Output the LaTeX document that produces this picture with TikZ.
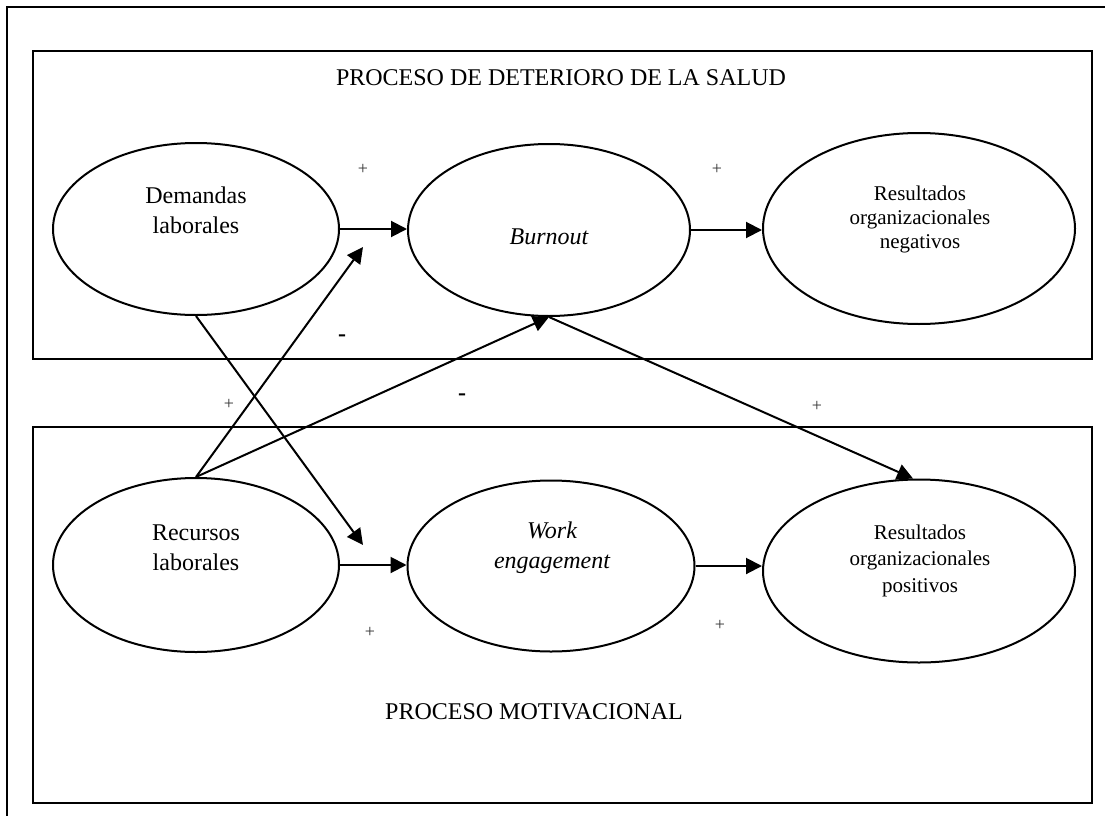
\documentclass[tikz,border=0pt]{standalone}
\usepackage{fontspec}
\setmainfont{Liberation Serif}
\usetikzlibrary{shapes.geometric,arrows.meta}
\begin{document}
\begin{tikzpicture}[x=1pt,y=-1pt,
  frame/.style={draw=black,line width=2.2pt},
  blob/.style={draw=black,ellipse,line width=2pt,inner sep=0pt},
  body/.style={anchor=base,align=center,inner sep=0pt,font=\fontsize{24}{30}\selectfont},
  result/.style={anchor=base,align=center,inner sep=0pt,font=\fontsize{21}{24}\selectfont},
  heading/.style={anchor=base,inner sep=0pt,font=\fontsize{24}{29}\selectfont},
  plus/.style={inner sep=0pt,text=black!80,font=\fontsize{18}{18}\selectfont},
  minus/.style={inner sep=0pt,font=\fontsize{24}{24}\selectfont\bfseries},
  link/.style={line width=2pt,-{Triangle[length=16pt,width=16pt]}}]
\useasboundingbox (0,0) rectangle (1105,816);

% outer frame and the two process panels
\draw[frame] (7,830) -- (7,7) -- (1120,7);
\draw[frame] (33,51) rectangle (1092,359);
\draw[frame] (33,427) rectangle (1092,803);

\node[heading] (salud) at (561,85) {PROCESO DE DETERIORO DE LA SALUD};
\node[heading,anchor=base west] (motiv) at (385,719) {PROCESO MOTIVACIONAL};

% constructs
\node[blob,minimum width=286pt,minimum height=172pt] (dem) at (196,229) {};
\node[blob,minimum width=282pt,minimum height=172pt] (bur) at (549,230) {};
\node[blob,minimum width=312pt,minimum height=191pt] (neg) at (919,228.5) {};
\node[blob,minimum width=286pt,minimum height=174pt] (rec) at (196,565) {};
\node[blob,minimum width=287pt,minimum height=171pt] (wor) at (551,566) {};
\node[blob,minimum width=312pt,minimum height=183pt] (pos) at (919,571) {};

% texts, placed by the baseline of their last line
\node[body] (demtxt) at (196,233) {Demandas\\laborales};
\node[body] (burtxt) at (549,244) {\itshape Burnout};
\node[result] (negtxt) at (920,248) {Resultados\\organizacionales\\negativos};
\node[body] (rectxt) at (196,570) {Recursos\\laborales};
\node[body,font=\fontsize{24}{30}\selectfont\itshape] (wortxt) at (552,568) {Work\\engagement};
\node[result,font=\fontsize{21}{26.5}\selectfont] (postxt) at (920,592) {Resultados\\organizacionales\\positivos};

% free ends of the two cross paths
\coordinate (tipup) at (363,247);
\coordinate (tipdown) at (363,545);

% paths
\draw[link] (dem.east) -- (dem.east -| bur.west);
\draw[link] (bur.east) -- (bur.east -| neg.west);
\draw[link] (rec.east) -- (rec.east -| wor.west);
\draw[link] (wor.east) -- (wor.east -| pos.west);
\draw[link] (dem.south) -- (tipdown);
\draw[link] (rec.north) -- (tipup);
\draw[link] (rec.north) -- (bur.south);
\draw[link] (bur.south) -- ([xshift=-6pt]pos.north);

% signs
\node[plus] (p1) at (363,169) {+};
\node[plus] (p2) at (717,169) {+};
\node[plus] (p3) at (229,404) {+};
\node[plus] (p4) at (817,406) {+};
\node[plus] (p5) at (370,632) {+};
\node[plus] (p6) at (720,625) {+};
\node[minus] (m1) at (342,338) {-};
\node[minus] (m2) at (462,397) {-};
\end{tikzpicture}
\end{document}
